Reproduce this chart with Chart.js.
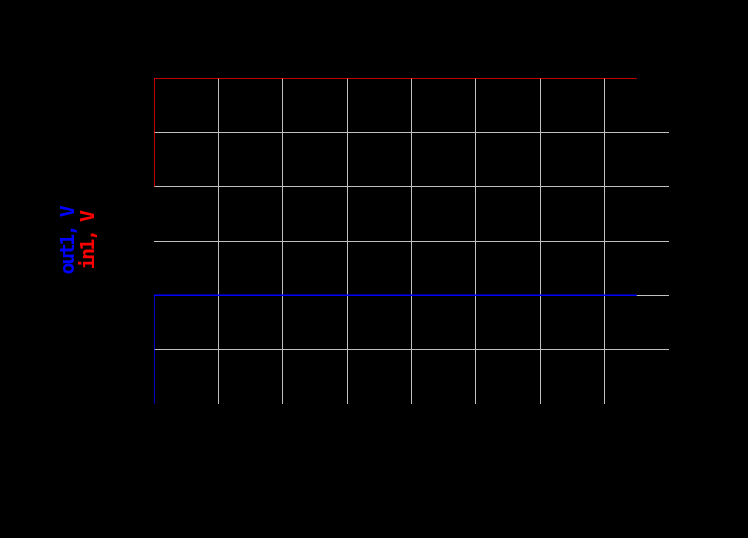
<!DOCTYPE html>
<html>
<head>
<meta charset="utf-8">
<script src="https://cdn.jsdelivr.net/npm/chart.js@4/dist/chart.umd.min.js"></script>
<style>
html,body{margin:0;padding:0;background:#000;}
#wrap{width:748px;height:538px;position:relative;}
</style>
</head>
<body>
<div id="wrap"><canvas id="c" width="748" height="538"></canvas></div>
<script>
const timeIn1 = [0, 0, 7.5];
const in1Values = [2, 3, 3];
const timeOut1 = [0, 0, 7.5];
const out1Values = [0, 1, 1];
const xTicks = [0, 1, 2, 3, 4, 5, 6, 7, 8];
const yTicks = [0, 0.5, 1, 1.5, 2, 2.5, 3];

const bgPlugin = {
  id: 'bg',
  beforeDraw(chart) {
    const ctx = chart.ctx;
    ctx.save();
    ctx.fillStyle = '#000';
    ctx.fillRect(0, 0, chart.width, chart.height);
    ctx.restore();
    ctx.letterSpacing = '-2.5px';
  }
};

const innerGrid = (ctx) => {
  const n = ctx.chart.scales[ctx.scale.id].ticks.length;
  return (ctx.index === 0 || ctx.index === n - 1) ? 'rgba(0,0,0,0)' : '#c0c0c0';
};

const titleFont = { family: 'DejaVu Sans Mono', size: 20, weight: 'bold', lineHeight: 1 };

new Chart(document.getElementById('c'), {
  type: 'line',
  data: {
    datasets: [
      {
        label: 'in1',
        data: timeIn1.map((t, i) => ({x: t, y: in1Values[i]})),
        borderColor: '#ff0000',
        borderWidth: 1.5,
        pointRadius: 0,
        tension: 0,
        fill: false,
        yAxisID: 'yIn'
      },
      {
        label: 'out1',
        data: timeOut1.map((t, i) => ({x: t, y: out1Values[i]})),
        borderColor: '#0000ff',
        borderWidth: 1.5,
        pointRadius: 0,
        tension: 0,
        fill: false,
        yAxisID: 'yOut'
      }
    ]
  },
  options: {
    responsive: false,
    animation: false,
    layout: { padding: { left: 58.5, top: 78, right: 79, bottom: 134 } },
    plugins: { legend: { display: false }, tooltip: { enabled: false } },
    scales: {
      x: {
        type: 'linear',
        min: xTicks[0],
        max: xTicks[xTicks.length - 1],
        afterBuildTicks: (s) => { s.ticks = xTicks.map(v => ({value: v})); },
        ticks: { display: false },
        border: { display: false },
        grid: { color: innerGrid, lineWidth: 1, drawTicks: false }
      },
      yOut: {
        type: 'linear',
        position: 'left',
        weight: 2,
        min: yTicks[0],
        max: yTicks[yTicks.length - 1],
        afterBuildTicks: (s) => { s.ticks = yTicks.map(v => ({value: v})); },
        ticks: { display: false },
        border: { display: false },
        grid: { color: innerGrid, lineWidth: 1, drawTicks: false },
        title: {
          display: true,
          text: 'out1, V',
          color: '#0000ff',
          font: titleFont,
          padding: { top: 0, bottom: 0 }
        }
      },
      yIn: {
        type: 'linear',
        position: 'left',
        weight: 1,
        min: yTicks[0],
        max: yTicks[yTicks.length - 1],
        ticks: { display: false },
        border: { display: false },
        grid: { display: false, drawTicks: false },
        title: {
          display: true,
          text: 'in1, V',
          color: '#ff0000',
          font: titleFont,
          padding: { top: 0.5, bottom: 55 }
        }
      }
    }
  },
  plugins: [bgPlugin]
});
</script>
</body>
</html>
